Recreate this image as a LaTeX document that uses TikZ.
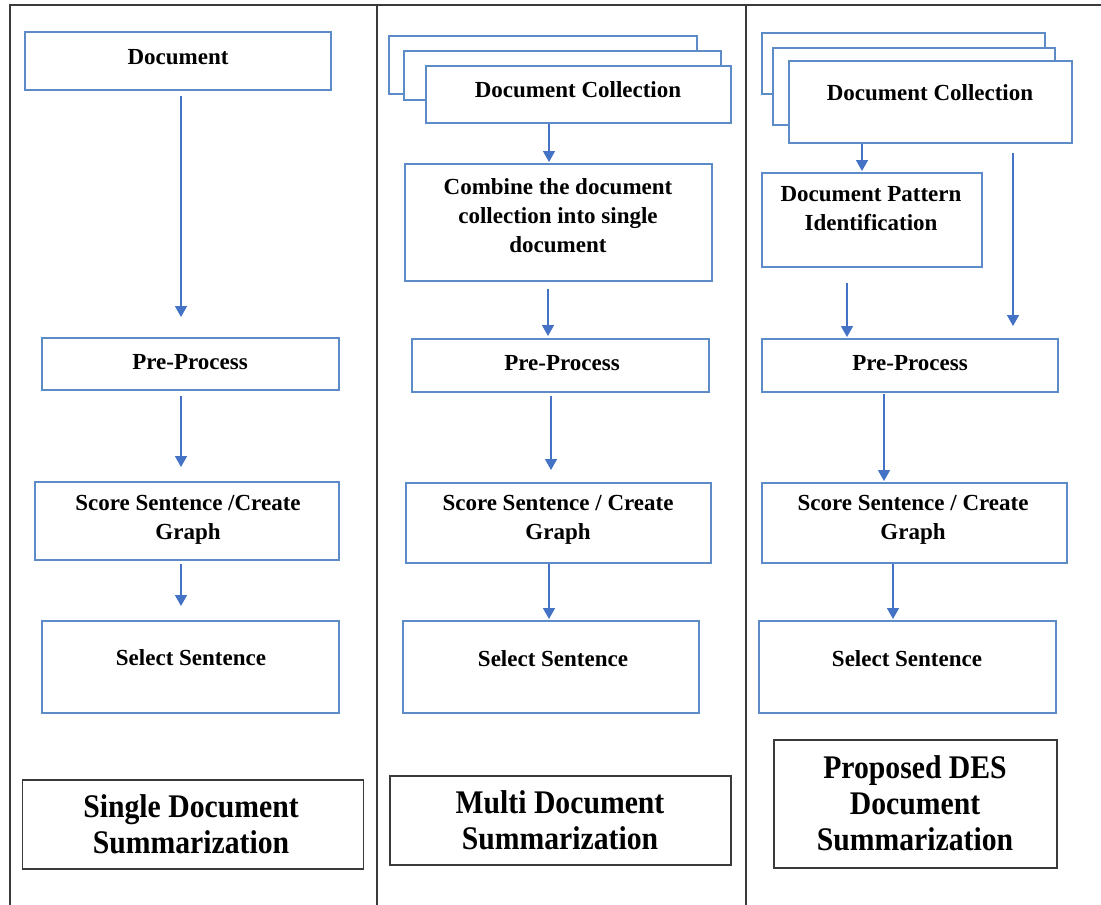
\documentclass[tikz,border=0pt]{standalone}
\usepackage{fontspec}
\setmainfont{Liberation Serif}
\newfontfamily\condserif[FakeStretch=0.9]{Liberation Serif}
\usetikzlibrary{arrows.meta}
\definecolor{boxblue}{HTML}{5B8CC8}
\definecolor{arrblue}{HTML}{4472C4}
\definecolor{framegray}{HTML}{3A3A3A}
\tikzset{
  bx/.style={draw=boxblue, line width=2pt, fill=white, inner sep=0pt},
  lbx/.style={draw=framegray, line width=1.8pt, fill=white, inner sep=0pt},
  txt/.style={inner sep=0pt, align=center, font=\fontsize{23}{29}\selectfont\bfseries},
  ltxt/.style={inner sep=0pt, align=center, font=\condserif\fontsize{33}{36}\selectfont\bfseries},
  arr/.style={draw=arrblue, line width=1.5pt, -{Triangle[width=12pt,length=11pt]}},
  frame/.style={draw=framegray, line width=1.8pt}
}
\begin{document}
\begin{tikzpicture}[x=1pt,y=-1pt]
\useasboundingbox (0,0) rectangle (1101,905);
\fill[white] (0,0) rectangle (1101,905);
% frame
\coordinate (tl) at (10,5);
\coordinate (tr) at (1101,5);
\coordinate (bl) at (10,905);
\coordinate (v1t) at (377,5);
\coordinate (v1b) at (377,905);
\coordinate (v2t) at (746,5);
\coordinate (v2b) at (746,905);
\draw[frame] (tr) -- (tl) -- (bl);
\draw[frame] (v1t) -- (v1b);
\draw[frame] (v2t) -- (v2b);

% ---------- column 1 ----------
\node[bx, minimum width=306pt, minimum height=58pt] (doc1) at (178,61) {};
\node[txt] (tdoc1) at (178,57.5) {Document};
\node[bx, minimum width=297pt, minimum height=52pt] (pre1) at (190.5,364) {};
\node[txt] (tpre1) at (190,362) {Pre-Process};
\node[bx, minimum width=304pt, minimum height=78pt] (sc1) at (187,521) {};
\node[txt] (tsc1) at (188,520) {Score Sentence /Create\\Graph};
\node[bx, minimum width=297pt, minimum height=92pt] (sel1) at (190.5,667) {};
\node[txt] (tsel1) at (191,658) {Select Sentence};
\node[lbx, minimum width=341pt, minimum height=89pt] (lab1) at (193,824.5) {};
\node[ltxt] (tlab1) at (191,824) {Single Document\\Summarization};

\coordinate (ax1) at (181,0);
\draw[arr, shorten <=5pt, shorten >=20pt] (doc1.south -| ax1) -- (pre1.north -| ax1);
\draw[arr, shorten <=5pt, shorten >=14pt] (pre1.south -| ax1) -- (sc1.north -| ax1);
\draw[arr, shorten <=3pt, shorten >=14pt] (sc1.south -| ax1) -- (sel1.north -| ax1);

% ---------- column 2 ----------
\node[bx, minimum width=308pt, minimum height=58pt] (cb2) at (543,65) {};
\node[bx, minimum width=317pt, minimum height=49pt] (cm2) at (562.5,75.5) {};
\node[bx, minimum width=305pt, minimum height=57pt] (cf2) at (578.5,94.5) {};
\node[txt] (tcf2) at (578,90) {Document Collection};
\node[bx, minimum width=307pt, minimum height=117pt] (comb2) at (558.5,222.5) {};
\node[txt] (tcomb2) at (558,216) {Combine the document\\collection into single\\document};
\node[bx, minimum width=297pt, minimum height=53pt] (pre2) at (560.5,365.5) {};
\node[txt] (tpre2) at (562,363) {Pre-Process};
\node[bx, minimum width=305pt, minimum height=80pt] (sc2) at (558.5,523) {};
\node[txt] (tsc2) at (558,520) {Score Sentence / Create\\Graph};
\node[bx, minimum width=296pt, minimum height=92pt] (sel2) at (551,667) {};
\node[txt] (tsel2) at (553,659) {Select Sentence};
\node[lbx, minimum width=341pt, minimum height=89pt] (lab2) at (560.5,820.5) {};
\node[ltxt] (tlab2) at (560,820) {Multi Document\\Summarization};

\coordinate (ax2a) at (549,0);
\coordinate (ax2b) at (548,0);
\coordinate (ax2c) at (551,0);
\coordinate (ax2d) at (549,0);
\draw[arr, shorten <=0pt, shorten >=1pt] (cf2.south -| ax2a) -- (comb2.north -| ax2a);
\draw[arr, shorten <=7pt, shorten >=2pt] (comb2.south -| ax2b) -- (pre2.north -| ax2b);
\draw[arr, shorten <=3pt, shorten >=12pt] (pre2.south -| ax2c) -- (sc2.north -| ax2c);
\draw[arr, shorten <=0pt, shorten >=1pt] (sc2.south -| ax2d) -- (sel2.north -| ax2d);

% ---------- column 3 ----------
\node[bx, minimum width=283pt, minimum height=61pt] (cb3) at (903.5,63.5) {};
\node[bx, minimum width=282pt, minimum height=77pt] (cm3) at (914,86.5) {};
\node[bx, minimum width=283pt, minimum height=82pt] (cf3) at (930.5,102) {};
\node[txt] (tcf3) at (930,93) {Document Collection};
\node[bx, minimum width=220pt, minimum height=94pt] (dpi3) at (872,220) {};
\node[txt] (tdpi3) at (871,209) {Document Pattern\\Identification};
\node[bx, minimum width=296pt, minimum height=53pt] (pre3) at (910,365.5) {};
\node[txt] (tpre3) at (910,363) {Pre-Process};
\node[bx, minimum width=305pt, minimum height=80pt] (sc3) at (914.5,523) {};
\node[txt] (tsc3) at (913,520) {Score Sentence / Create\\Graph};
\node[bx, minimum width=297pt, minimum height=92pt] (sel3) at (907.5,667) {};
\node[txt] (tsel3) at (907,659) {Select Sentence};
\node[lbx, minimum width=283pt, minimum height=128pt] (lab3) at (915.5,804) {};
\node[ltxt] (tlab3) at (915,803) {Proposed DES\\Document\\Summarization};

\coordinate (ax3a) at (862,0);
\coordinate (ax3b) at (847,0);
\coordinate (ax3l) at (1013,0);
\coordinate (ax3c) at (884,0);
\coordinate (ax3d) at (893,0);
\draw[arr, shorten <=0pt, shorten >=1pt] (cf3.south -| ax3a) -- (dpi3.north -| ax3a);
\draw[arr, shorten <=15pt, shorten >=1pt] (dpi3.south -| ax3b) -- (pre3.north -| ax3b);
\draw[arr, shorten <=9pt, shorten >=12pt] (cf3.south -| ax3l) -- (pre3.north -| ax3l);
\draw[arr, shorten <=1pt, shorten >=1pt] (pre3.south -| ax3c) -- (sc3.north -| ax3c);
\draw[arr, shorten <=0pt, shorten >=1pt] (sc3.south -| ax3d) -- (sel3.north -| ax3d);
\end{tikzpicture}
\end{document}
